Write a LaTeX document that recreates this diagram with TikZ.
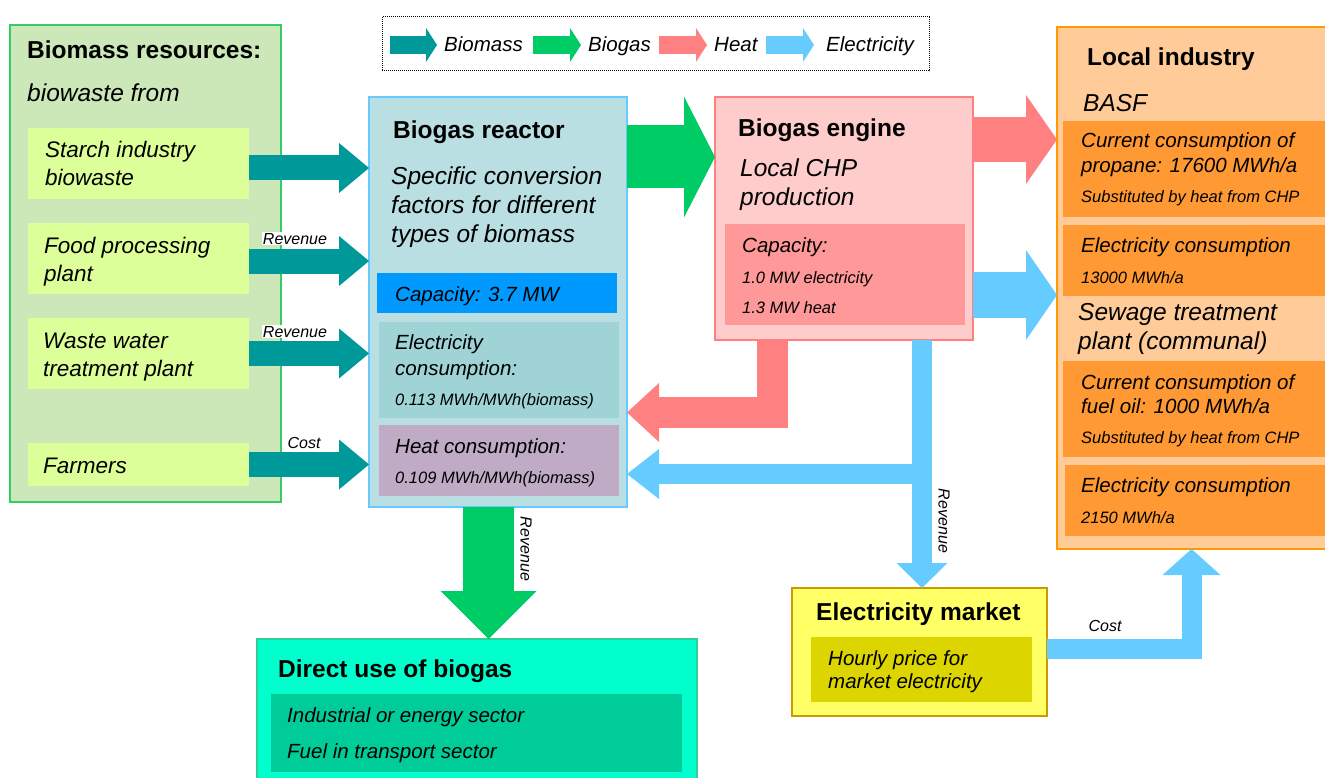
\documentclass[tikz,border=0pt]{standalone}
\usepackage{fontspec}
\setmainfont{Liberation Sans}
\usetikzlibrary{arrows.meta,calc}

% flow colours
\definecolor{cBiomass}{HTML}{009999}
\definecolor{cBiogas}{HTML}{00CC66}
\definecolor{cHeat}{HTML}{FF8080}
\definecolor{cElec}{HTML}{66CCFF}
% panel colours
\definecolor{resFill}{HTML}{CCE8B8}
\definecolor{resLine}{HTML}{33CC66}
\definecolor{srcFill}{HTML}{DDFF99}
\definecolor{reaFill}{HTML}{BADFE2}
\definecolor{reaLine}{HTML}{66CCFF}
\definecolor{capFill}{HTML}{0099FF}
\definecolor{elcFill}{HTML}{9FD3D6}
\definecolor{htcFill}{HTML}{C0ABC6}
\definecolor{engFill}{HTML}{FFCCCC}
\definecolor{engLine}{HTML}{FF8080}
\definecolor{engCap}{HTML}{FF9999}
\definecolor{indFill}{HTML}{FFCC99}
\definecolor{indLine}{HTML}{FF9900}
\definecolor{indSub}{HTML}{FF9933}
\definecolor{dirFill}{HTML}{00FFCC}
\definecolor{dirLine}{HTML}{33CC99}
\definecolor{dirSub}{HTML}{00CC99}
\definecolor{mktFill}{HTML}{FFFF66}
\definecolor{mktLine}{HTML}{CC9900}
\definecolor{mktSub}{HTML}{DDD500}

\tikzset{
  panel/.style={anchor=north west, inner sep=0pt, outer sep=0pt, line width=2pt},
  hd/.style={anchor=base west, inner sep=0pt, font=\fontsize{24.5}{29}\selectfont\bfseries},
  bigi/.style={anchor=base west, inner sep=0pt, font=\fontsize{24.5}{29}\selectfont\itshape},
  srci/.style={anchor=base west, inner sep=0pt, font=\fontsize{22.5}{27}\selectfont\itshape},
  midi/.style={anchor=base west, inner sep=0pt, font=\fontsize{20.5}{25}\selectfont\itshape},
  smi/.style={anchor=base west, inner sep=0pt, font=\fontsize{16.5}{20}\selectfont\itshape},
  flowlbl/.style={inner sep=1pt, fill=white, font=\fontsize{16}{19}\selectfont\itshape},
  flow/.style n args={4}{draw=#1, line width=#2, line join=miter,
    -{Triangle[width=#3, length=#4, line width=0pt]}},
}

\begin{document}
\begin{tikzpicture}[x=1pt, y=-1pt]
\useasboundingbox (0,0) rectangle (1325,778);

% ---------- panels ----------
\node[panel, fill=resFill, draw=resLine, minimum width=271pt, minimum height=477pt] (res) at (10,25) {};
\node[panel, fill=srcFill, minimum width=221pt, minimum height=71pt] (starch) at (28,128) {};
\node[panel, fill=srcFill, minimum width=221pt, minimum height=71pt] (food) at (28,223) {};
\node[panel, fill=srcFill, minimum width=221pt, minimum height=71pt] (waste) at (28,318) {};
\node[panel, fill=srcFill, minimum width=221pt, minimum height=43pt] (farmers) at (28,443) {};

\node[panel, fill=reaFill, draw=reaLine, minimum width=258pt, minimum height=410pt] (reactor) at (369,97) {};
\node[panel, fill=capFill, minimum width=240pt, minimum height=40pt] (reacap) at (377,273) {};
\node[panel, fill=elcFill, minimum width=240pt, minimum height=96pt] (reaelc) at (379,322) {};
\node[panel, fill=htcFill, minimum width=240pt, minimum height=71pt] (reahtc) at (379,425) {};

\node[panel, fill=engFill, draw=engLine, minimum width=258pt, minimum height=243pt] (engine) at (715,97) {};
\node[panel, fill=engCap, minimum width=240pt, minimum height=101pt] (engcap) at (725,224) {};

\node[panel, fill=indFill, draw=indLine, minimum width=290pt, minimum height=522pt] (industry) at (1057,27) {};
\node[panel, fill=indSub, minimum width=280pt, minimum height=96pt] (basfheat) at (1063,121) {};
\node[panel, fill=indSub, minimum width=280pt, minimum height=71pt] (basfelec) at (1063,225) {};
\node[panel, fill=indSub, minimum width=280pt, minimum height=96pt] (sewheat) at (1063,361) {};
\node[panel, fill=indSub, minimum width=280pt, minimum height=71pt] (sewelec) at (1065,465) {};

\node[panel, fill=dirFill, draw=dirLine, minimum width=440pt, minimum height=151pt] (direct) at (257,639) {};
\node[panel, fill=dirSub, minimum width=411pt, minimum height=78pt] (dirsub) at (271,694) {};

\node[panel, fill=mktFill, draw=mktLine, minimum width=255pt, minimum height=128pt] (market) at (792,588) {};
\node[panel, fill=mktSub, minimum width=221pt, minimum height=65pt] (mktsub) at (811,637) {};

% ---------- legend ----------
\node[panel, draw=black, line width=1pt, dash pattern=on 1pt off 1pt,
      minimum width=547pt, minimum height=54pt] (legend) at (382,17) {};
\draw[flow={cBiomass}{18pt}{34pt}{11pt}] (390,45) -- (437,45);
\draw[flow={cBiogas}{18pt}{34pt}{11pt}] (533,45) -- (581,45);
\draw[flow={cHeat}{18pt}{34pt}{11pt}] (659,45) -- (707,45);
\draw[flow={cElec}{18pt}{34pt}{11pt}] (766,45) -- (814,45);
\node[midi] (lgbiomass) at (444,52) {Biomass};
\node[midi] (lgbiogas) at (588,52) {Biogas};
\node[midi] (lgheat) at (714,52) {Heat};
\node[midi] (lgelec) at (826,52) {Electricity};

% ---------- flows ----------
\coordinate (gasY) at (0,157);
\coordinate (heatY) at (0,139.5);
\coordinate (elecY) at (0,295);
\coordinate (retC) at (772,412.5);
\coordinate (busC) at (922,474);
\coordinate (dgX) at (488.5,0);
\coordinate (costC) at (1191.5,648.5);

% biomass supply
\draw[flow={cBiomass}{25pt}{50pt}{30pt}] ($(starch.east)+(0,4.5)$) -- ($(reactor.west |- starch.east)+(0,4.5)$);
\draw[flow={cBiomass}{25pt}{50pt}{30pt}] ($(food.east)+(0,2.5)$) -- ($(reactor.west |- food.east)+(0,2.5)$);
\draw[flow={cBiomass}{25pt}{50pt}{30pt}] (waste.east) -- (reactor.west |- waste.east);
\draw[flow={cBiomass}{25pt}{50pt}{30pt}] (farmers.east) -- (reactor.west |- farmers.east);

% biogas
\draw[flow={cBiogas}{63pt}{121pt}{31pt}] (reactor.east |- gasY) -- (engine.west |- gasY);
\draw[flow={cBiogas}{51pt}{96pt}{48pt}] (dgX |- reactor.south) -- (dgX |- direct.north);

% heat
\draw[flow={cHeat}{45pt}{89pt}{31pt}] (engine.east |- heatY) -- (industry.west |- heatY);
\draw[flow={cHeat}{31pt}{59pt}{32pt}] (retC |- engine.south) -- (retC) -- (reactor.east |- retC);

% electricity
\draw[flow={cElec}{46pt}{90pt}{31pt}] (engine.east |- elecY) -- (industry.west |- elecY);
\draw[flow={cElec}{20pt}{50pt}{32pt}] (busC) -- (reactor.east |- busC);
\draw[flow={cElec}{20pt}{51pt}{25pt}] (busC |- engine.south) -- (busC |- market.north);
\draw[flow={cElec}{20pt}{58pt}{26pt}] (market.east |- costC) -- (costC) -- (costC |- industry.south);

% money labels
\node[flowlbl, anchor=base] (revfood) at (295,244) {Revenue};
\node[flowlbl, anchor=base] (revwaste) at (295,337) {Revenue};
\node[flowlbl, anchor=base] (costfarm) at (304,448) {Cost};
\node[flowlbl, rotate=-90] (revgas) at (526,549) {Revenue};
\node[flowlbl, rotate=-90] (revelec) at (944,521) {Revenue};
\node[flowlbl, anchor=base] (costelec) at (1105,631) {Cost};

% ---------- texts ----------
\node[hd] (t01) at (27,59) {Biomass resources:};
\node[bigi] (t02) at (27,102) {biowaste from};
\node[srci] (t03) at (45,158) {Starch industry};
\node[srci] (t04) at (45,186) {biowaste};
\node[srci] (t05) at (44,253) {Food processing};
\node[srci] (t06) at (44,281) {plant};
\node[srci] (t07) at (43,348) {Waste water};
\node[srci] (t08) at (43,376) {treatment plant};
\node[srci] (t09) at (43,473) {Farmers};

\node[hd] (t10) at (393,139) {Biogas reactor};
\node[bigi] (t11) at (391,185) {Specific conversion};
\node[bigi] (t12) at (391,214) {factors for different};
\node[bigi] (t13) at (391,243) {types of biomass};
\node[midi] (t14) at (395,301) {Capacity: 3.7 MW};
\node[midi] (t15) at (395,349) {Electricity};
\node[midi] (t16) at (395,375) {consumption:};
\node[smi] (t17) at (395,405) {0.113 MWh/MWh(biomass)};
\node[midi] (t18) at (395,453) {Heat consumption:};
\node[smi] (t19) at (395,483) {0.109 MWh/MWh(biomass)};

\node[hd] (t20) at (738,137) {Biogas engine};
\node[bigi] (t21) at (740,177) {Local CHP};
\node[bigi] (t22) at (740,206) {production};
\node[midi] (t23) at (742,252) {Capacity:};
\node[smi] (t24) at (742,283) {1.0 MW electricity};
\node[smi] (t25) at (742,313) {1.3 MW heat};

\node[hd] (t26) at (1087,66) {Local industry};
\node[bigi] (t27) at (1083,112) {BASF};
\node[midi] (t28) at (1081,148) {Current consumption of};
\node[midi] (t29) at (1081,173) {propane: 17600 MWh/a};
\node[smi] (t30) at (1081,203) {Substituted by heat from CHP};
\node[midi] (t31) at (1081,252) {Electricity consumption};
\node[smi] (t32) at (1081,283) {13000 MWh/a};
\node[bigi] (t33) at (1078,320) {Sewage treatment};
\node[bigi] (t34) at (1078,349) {plant (communal)};
\node[midi] (t35) at (1081,389) {Current consumption of};
\node[midi] (t36) at (1081,413) {fuel oil: 1000 MWh/a};
\node[smi] (t37) at (1081,443) {Substituted by heat from CHP};
\node[midi] (t38) at (1081,492) {Electricity consumption};
\node[smi] (t39) at (1081,523) {2150 MWh/a};

\node[hd] (t40) at (278,677) {Direct use of biogas};
\node[midi] (t41) at (287,722) {Industrial or energy sector};
\node[midi] (t42) at (287,758) {Fuel in transport sector};

\node[hd] (t43) at (816,620) {Electricity market};
\node[midi] (t44) at (828,665) {Hourly price for};
\node[midi] (t45) at (828,688) {market electricity};
\end{tikzpicture}
\end{document}
